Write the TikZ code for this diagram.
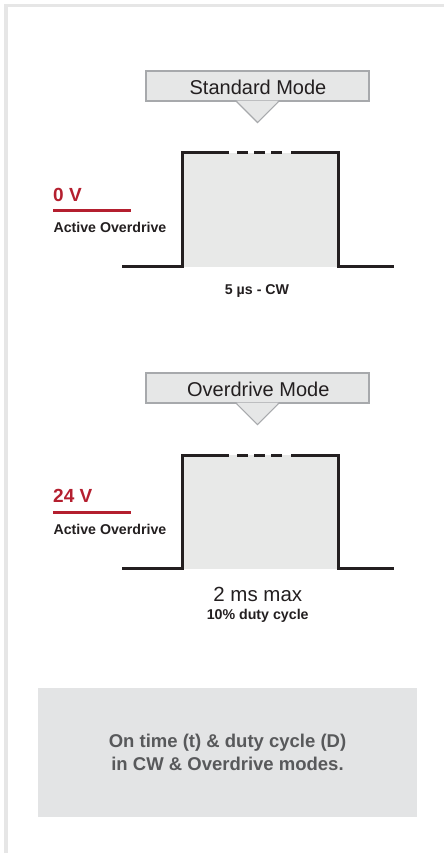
\documentclass[tikz,border=0pt]{standalone}
\usepackage{fontspec}
\setmainfont{Liberation Sans}
\definecolor{pulsered}{HTML}{B41F2F}
\definecolor{pulseink}{HTML}{231F20}
\definecolor{pulsefill}{HTML}{E8E9E8}
\definecolor{calloutfill}{HTML}{E6E7E7}
\definecolor{calloutline}{HTML}{A7A9AC}
\definecolor{notefill}{HTML}{E3E4E5}
\definecolor{notetext}{HTML}{58595B}
\definecolor{framegray}{HTML}{E6E6E6}
\tikzset{
  modebox/.style={fill=calloutfill,draw=calloutline,line width=1.2pt,minimum width=223pt,minimum height=30pt,inner sep=0pt},
  modetext/.style={font=\fontsize{20}{24}\selectfont,text=pulseink,anchor=base},
  pulse/.style={line width=3pt,pulseink,miter limit=4},
  volt/.style={font=\fontsize{19}{22}\selectfont\bfseries,text=pulsered,anchor=base west,inner sep=0pt},
  smalltext/.style={font=\fontsize{14.2}{17}\selectfont\bfseries,text=pulseink,inner sep=0pt},
}
\begin{document}
\begin{tikzpicture}[x=1pt,y=-1pt]
\useasboundingbox (0,0) rectangle (444,853);
\draw[framegray,line width=3.6pt] (6,853) -- (6,5.6) -- (444,5.6);

% standard mode
\node[modebox] (std) at (257.5,86) {};
\fill[calloutfill] ([xshift=-21pt,yshift=1pt]std.south) -- ([yshift=-21pt]std.south) -- ([xshift=21pt,yshift=1pt]std.south) -- cycle;
\draw[calloutline,line width=1.2pt] ([xshift=-21pt]std.south) -- ([yshift=-21pt]std.south) -- ([xshift=21pt]std.south);
\node[modetext] (stdlabel) at (258,95) {Standard Mode};
\fill[pulsefill] (182,153) rectangle (338,266.5);
\draw[pulse] (122,266.5) -- (182,266.5) -- (182,153) -- (229,153);
\draw[pulse,dash pattern=on 10.5pt off 6.5pt] (237,153) -- (282,153);
\draw[pulse] (291,153) -- (338,153) -- (338,266.5) -- (394,266.5);
\node[volt] (v0) at (53,201) {0 V};
\draw[pulsered,line width=2.7pt] (53,210.7) -- (131,210.7);
\node[smalltext,anchor=base west] (ovd1) at (53.3,232) {Active Overdrive};
\node[smalltext,anchor=base] (cw) at (257,294) {5 µs - CW};

% overdrive mode
\node[modebox] (ovd) at (257.5,388) {};
\fill[calloutfill] ([xshift=-21pt,yshift=1pt]ovd.south) -- ([yshift=-21pt]ovd.south) -- ([xshift=21pt,yshift=1pt]ovd.south) -- cycle;
\draw[calloutline,line width=1.2pt] ([xshift=-21pt]ovd.south) -- ([yshift=-21pt]ovd.south) -- ([xshift=21pt]ovd.south);
\node[modetext] (ovdlabel) at (258.3,396.7) {Overdrive Mode};
\fill[pulsefill] (182,455) rectangle (338,568.5);
\draw[pulse] (122,568.5) -- (182,568.5) -- (182,455) -- (229,455);
\draw[pulse,dash pattern=on 10.5pt off 6.5pt] (237,455) -- (282,455);
\draw[pulse] (291,455) -- (338,455) -- (338,568.5) -- (394,568.5);
\node[volt] (v24) at (53,502) {24 V};
\draw[pulsered,line width=2.7pt] (53,512.5) -- (131,512.5);
\node[smalltext,anchor=base west] (ovd2) at (53.3,534) {Active Overdrive};
\node[font=\fontsize{20.5}{24}\selectfont,text=pulseink,anchor=base,inner sep=0pt] (max) at (257.8,601) {2 ms max};
\node[smalltext,anchor=base] (duty) at (257.7,619) {10\% duty cycle};

% note
\node[fill=notefill,minimum width=379pt,minimum height=129pt,align=center,text=notetext,
  font=\fontsize{18.5}{22.7}\selectfont\bfseries] (note) at (227.5,752.5)
  {On time (t) \& duty cycle (D)\\in CW \& Overdrive modes.};
\end{tikzpicture}
\end{document}
